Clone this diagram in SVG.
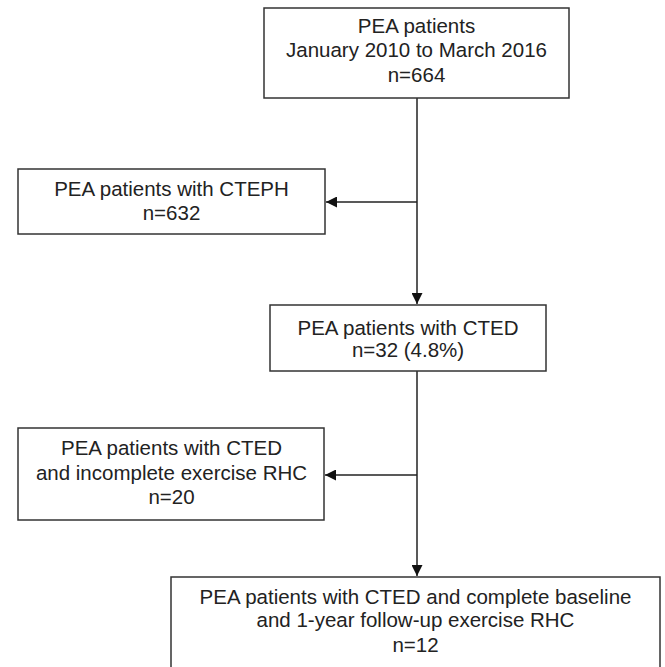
<svg xmlns="http://www.w3.org/2000/svg" width="665" height="667" viewBox="0 0 665 667">
<style>
.box{fill:#fff;stroke:#333;stroke-width:1.5}
.t{font-family:"Liberation Sans",Arial,sans-serif;font-size:20.5px;fill:#222;text-anchor:middle}
.c{stroke:#222;stroke-width:1.5;fill:none}
</style>
<defs>
<marker id="ah" viewBox="0 0 10 10" refX="10" refY="5" markerWidth="11" markerHeight="11" markerUnits="userSpaceOnUse" orient="auto">
<path d="M0,0 L10,5 L0,10 Z" fill="#111"/>
</marker>
</defs>
<rect width="665" height="667" fill="#fff"/>
<g id="connectors">
<line class="c" x1="417" y1="98" x2="417" y2="304" marker-end="url(#ah)"/>
<line class="c" x1="417" y1="202" x2="326" y2="202" marker-end="url(#ah)"/>
<line class="c" x1="417" y1="371" x2="417" y2="576" marker-end="url(#ah)"/>
<line class="c" x1="417" y1="475" x2="325" y2="475" marker-end="url(#ah)"/>
</g>
<g id="n1">
<rect class="box" x="264" y="8" width="305" height="90"/>
<text class="t" x="416.5" y="33">PEA patients</text>
<text class="t" x="416.5" y="57">January 2010 to March 2016</text>
<text class="t" x="416.5" y="82">n=664</text>
</g>
<g id="n2">
<rect class="box" x="18" y="169" width="307" height="65"/>
<text class="t" x="171.5" y="196">PEA patients with CTEPH</text>
<text class="t" x="171.5" y="220">n=632</text>
</g>
<g id="n3">
<rect class="box" x="270" y="305" width="276" height="66"/>
<text class="t" x="408" y="335">PEA patients with CTED</text>
<text class="t" x="408" y="357">n=32 (4.8%)</text>
</g>
<g id="n4">
<rect class="box" x="18" y="428" width="306" height="92"/>
<text class="t" x="171.5" y="455">PEA patients with CTED</text>
<text class="t" x="171.5" y="480">and incomplete exercise RHC</text>
<text class="t" x="171.5" y="504">n=20</text>
</g>
<g id="n5">
<rect class="box" x="171" y="577" width="489" height="100"/>
<text class="t" x="415.5" y="604">PEA patients with CTED and complete baseline</text>
<text class="t" x="415.5" y="627">and 1-year follow-up exercise RHC</text>
<text class="t" x="415.5" y="652">n=12</text>
</g>
</svg>
